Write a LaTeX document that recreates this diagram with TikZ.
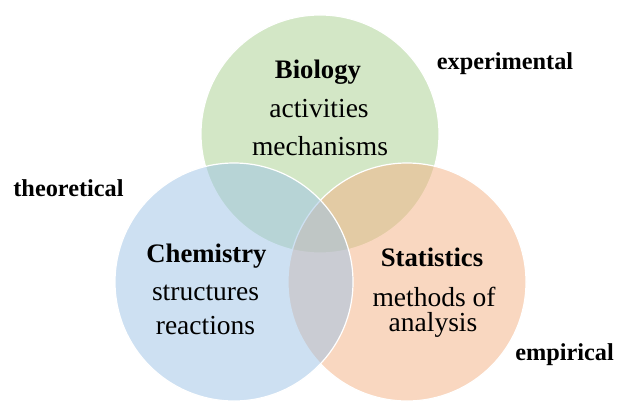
\documentclass[tikz,border=0pt]{standalone}
\usepackage{fontspec}
\setmainfont{Liberation Serif}
\begin{document}
\begin{tikzpicture}[x=1pt,y=-1pt,
  venn/.style={circle, minimum size=238pt, inner sep=0pt, draw=white, line width=1.2pt, fill opacity=0.5},
  head/.style={font=\fontsize{26.7}{28}\selectfont\bfseries, inner sep=0pt, anchor=base},
  body/.style={font=\fontsize{27.5}{28}\selectfont, inner sep=0pt, anchor=base},
  side/.style={font=\fontsize{24.3}{26}\selectfont\bfseries, inner sep=0pt, anchor=base}]
\useasboundingbox (0,0) rectangle (617,401);
\fill[white] (0,0) rectangle (617,401);
\definecolor{vgreen}{HTML}{A9D18E}
\definecolor{vblue}{HTML}{9DC3E6}
\definecolor{vorange}{HTML}{F4B183}
\node[venn, fill=vgreen] (bio) at (320,134) {};
\node[venn, fill=vorange] (stat) at (407,282) {};
\node[venn, fill=vblue] (chem) at (234,282) {};
\node[head] (bt) at (318,78) {Biology};
\node[body] (b1) at (319,117.5) {activities};
\node[body] (b2) at (320,155.5) {mechanisms};
\node[head] (ct) at (206.5,262) {Chemistry};
\node[body] (c1) at (205.5,300) {structures};
\node[body] (c2) at (205.5,334.5) {reactions};
\node[head] (st) at (432,266.5) {Statistics};
\node[body] (s1) at (434,306.5) {methods of};
\node[body] (s2) at (433,331.5) {analysis};
\node[side] (exp) at (505,70) {experimental};
\node[side] (theo) at (68.5,196) {theoretical};
\node[side] (emp) at (564.5,360) {empirical};
\end{tikzpicture}
\end{document}
